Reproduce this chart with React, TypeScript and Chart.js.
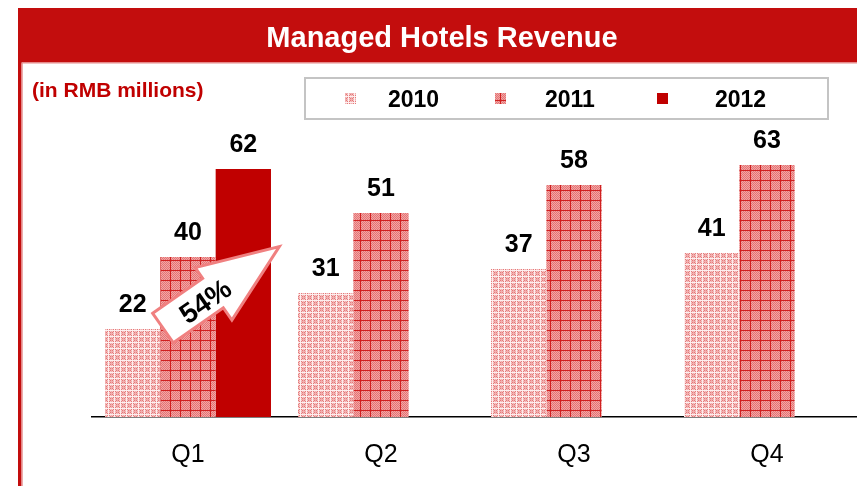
import React, { useEffect, useRef } from "react";
import { Chart, registerables } from "chart.js";

Chart.register(...registerables);

const categories = ["Q1", "Q2", "Q3", "Q4"];
const seriesLabels = ["2010", "2011", "2012"];
const values2010 = [22, 31, 37, 41];
const values2011 = [40, 51, 58, 63];
const values2012 = [62, null, null, null];
const growthLabel = "54%";
const titleText = "Managed Hotels Revenue";
const unitText = "(in RMB millions)";

const FONT = "'Liberation Sans', Arial, Helvetica, sans-serif";
const RED = "#C30D0D";

function makePattern(kind: string): CanvasPattern | string {
  const c = document.createElement("canvas");
  const size = kind === "2010" ? 6 : 10;
  c.width = size;
  c.height = size;
  const ctx = c.getContext("2d");
  if (!ctx) return "#e88080";
  for (let y = 0; y < size; y++) {
    for (let x = 0; x < size; x++) {
      let col: string;
      if (kind === "2010") {
        col = (x + y) % 2 === 0 ? "#e57a7a" : "#f6caca";
        if (x === 3 || y === 3) col = "#f1aeae";
        if (x === 0 || y === 0) col = "#fdeeee";
      } else {
        col = (x + y) % 2 === 0 ? "#e47474" : "#f2a6a6";
        if (x === 0 || y === 0) col = "#d02020";
      }
      ctx.fillStyle = col;
      ctx.fillRect(x, y, 1, 1);
    }
  }
  return ctx.createPattern(c, "repeat") || "#e88080";
}

export default function App() {
  const ref = useRef<HTMLCanvasElement | null>(null);

  useEffect(() => {
    const canvas = ref.current;
    if (!canvas) return;
    const p2010 = makePattern("2010");
    const p2011 = makePattern("2011");
    const fills: any[] = [p2010, p2011, "#C00000"];

    const decor = {
      id: "decor",
      beforeDraw(chart: any) {
        const ctx = chart.ctx;
        ctx.save();
        ctx.fillStyle = "#ffffff";
        ctx.fillRect(0, 0, chart.width, chart.height);
        // title bar
        ctx.fillStyle = RED;
        ctx.fillRect(18, 8, chart.width, 54);
        ctx.fillStyle = "#e58a8a";
        ctx.fillRect(18, 62, chart.width, 1.5);
        // left rule
        ctx.fillStyle = RED;
        ctx.fillRect(18, 62, 3.5, chart.height);
        ctx.fillStyle = "#e58a8a";
        ctx.fillRect(21.5, 63, 1.2, chart.height);
        // title
        ctx.fillStyle = "#ffffff";
        ctx.font = `bold 29px ${FONT}`;
        ctx.textAlign = "center";
        ctx.textBaseline = "alphabetic";
        ctx.fillText(titleText, 442, 47);
        // unit
        ctx.fillStyle = "#C00000";
        ctx.font = `bold 21px ${FONT}`;
        ctx.textAlign = "left";
        ctx.fillText(unitText, 32, 97);
        // legend box
        ctx.strokeStyle = "#c4c4c4";
        ctx.lineWidth = 2;
        ctx.strokeRect(305, 78, 523, 41);
        const markerX = [345, 495, 657];
        const textX = [388, 545, 715];
        ctx.font = `bold 23px ${FONT}`;
        chart.data.datasets.forEach((ds: any, i: number) => {
          ctx.fillStyle = ds.backgroundColor;
          ctx.fillRect(markerX[i], 93, 11, 11);
          ctx.fillStyle = "#000";
          ctx.fillText(ds.label, textX[i], 106.5);
        });
        ctx.restore();
      },
      afterDatasetsDraw(chart: any) {
        const ctx = chart.ctx;
        ctx.save();
        ctx.fillStyle = "#000";
        ctx.font = `bold 25px ${FONT}`;
        ctx.textAlign = "center";
        ctx.textBaseline = "alphabetic";
        chart.data.datasets.forEach((ds: any, di: number) => {
          const meta = chart.getDatasetMeta(di);
          meta.data.forEach((el: any, i: number) => {
            const v = ds.data[i];
            if (v === null || v === undefined) return;
            ctx.fillText(String(v), el.x, el.y - 17);
          });
        });
        // growth arrow, anchored on Q1 2011 bar
        const el = chart.getDatasetMeta(1).data[0];
        const tx = el.x - 25;
        const ty = el.y + 71;
        const ang = (-35 * Math.PI) / 180;
        ctx.translate(tx, ty);
        ctx.rotate(ang);
        ctx.beginPath();
        ctx.moveTo(0, -18);
        ctx.lineTo(61, -18);
        ctx.lineTo(61, -31);
        ctx.lineTo(142, 0);
        ctx.lineTo(61, 33);
        ctx.lineTo(61, 18);
        ctx.lineTo(0, 18);
        ctx.closePath();
        ctx.fillStyle = "#ffffff";
        ctx.fill();
        ctx.strokeStyle = "#f08080";
        ctx.lineWidth = 3;
        ctx.lineJoin = "miter";
        ctx.stroke();
        ctx.fillStyle = "#000";
        ctx.font = `bold 28px ${FONT}`;
        ctx.textAlign = "center";
        ctx.textBaseline = "middle";
        ctx.fillText(growthLabel, 50, 4);
        ctx.restore();
      },
    };

    const chart = new Chart(canvas, {
      type: "bar",
      data: {
        labels: categories,
        datasets: [
          { label: seriesLabels[0], data: values2010, backgroundColor: fills[0], borderWidth: 0 },
          { label: seriesLabels[1], data: values2011, backgroundColor: fills[1], borderWidth: 0 },
          { label: seriesLabels[2], data: values2012 as any, backgroundColor: fills[2], borderWidth: 0 },
        ],
      },
      options: {
        responsive: false,
        animation: false,
        devicePixelRatio: 1,
        layout: { padding: { left: 91.5, right: 8.5, top: 137, bottom: 7 } },
        datasets: { bar: { barPercentage: 1, categoryPercentage: 0.86 } },
        plugins: {
          legend: { display: false },
          title: { display: false },
          tooltip: { enabled: false },
        },
        scales: {
          x: {
            grid: { display: false, drawTicks: false },
            border: { display: true, color: "#000", width: 1.5 },
            ticks: { color: "#000", font: { family: FONT, size: 25 }, padding: 23 },
          },
          y: { display: false, min: 0, max: 70 },
        },
      } as any,
      plugins: [decor],
    });
    return () => chart.destroy();
  }, []);

  return (
    <div
      style={{
        position: "fixed",
        left: 0,
        top: 0,
        width: 857,
        height: 486,
        overflow: "hidden",
        background: "#fff",
      }}
    >
      <canvas ref={ref} width={872} height={500} style={{ display: "block", width: 872, height: 500 }} />
    </div>
  );
}
